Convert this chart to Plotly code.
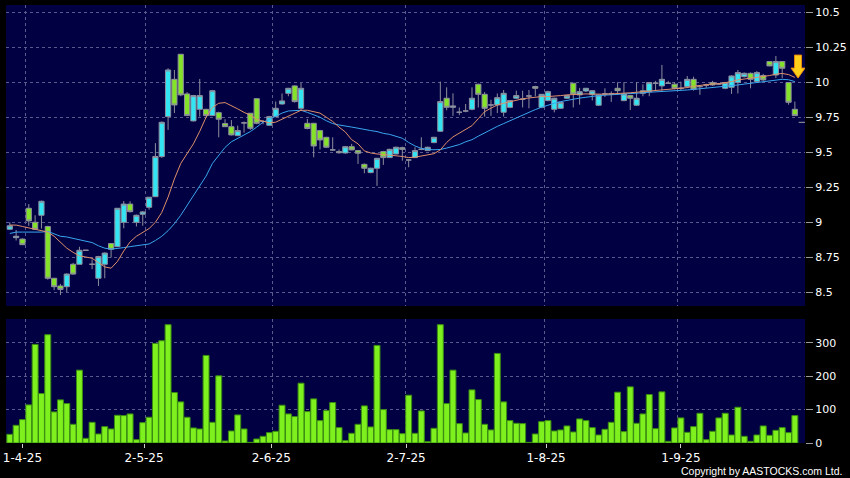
import plotly.graph_objects as go
from plotly.subplots import make_subplots

# daily bars (oldest first)
opens = [8.95, 8.89, 8.88, 9.10, 9.00, 9.05, 8.97, 8.60, 8.545, 8.54,
         8.70, 8.70, 8.80, 8.70, 8.60, 8.70, 8.848, 8.826, 9.00, 9.13,
         9.00, 9.057, 9.107, 9.183, 9.469, 9.755, 10.021, 10.20, 9.917, 9.724,
         9.807, 9.807, 9.762, 9.783, 9.705, 9.683, 9.619, 9.71, 9.779, 9.883,
         9.72, 9.693, 9.755, 9.845, 9.921, 9.974, 9.814, 9.707, 9.707, 9.655,
         9.607, 9.517, 9.505, 9.495, 9.54, 9.512, 9.414, 9.355, 9.386, 9.505,
         9.462, 9.488, 9.533, 9.445, 9.462, 9.521, 9.512, 9.569, 9.65, 9.886,
         9.821, 9.786, 9.795, 9.807, 9.986, 9.914, 9.838, 9.838, 9.786, 9.821,
         9.886, 9.879, 9.902, 9.969, 9.821, 9.869, 9.807, 9.814, 9.886, 9.993,
         9.91, 9.938, 9.912, 9.836, 9.917, 9.917, 9.957, 9.869, 9.905, 9.836,
         9.94, 9.933, 9.993, 9.974, 9.993, 9.986, 9.957, 9.969, 10.021, 9.969,
         9.98, 9.998, 9.988, 9.957, 9.964, 9.998, 10.04, 10.064, 10.005, 10.048,
         10.148, 10.052, 10.148, 9.998, 9.807]
highs = [9.00, 8.945, 8.885, 9.13, 9.05, 9.155, 8.975, 8.60, 8.56, 8.635,
         8.71, 8.825, 8.80, 8.735, 8.76, 8.785, 8.85, 9.10, 9.152, 9.15,
         9.055, 9.08, 9.18, 9.565, 9.72, 10.10, 10.088, 10.20, 9.93, 9.91,
         10.024, 9.81, 9.945, 9.79, 9.736, 9.73, 9.69, 9.72, 9.78, 9.885,
         9.73, 9.76, 9.862, 9.92, 9.96, 9.98, 9.995, 9.738, 9.71, 9.66,
         9.61, 9.607, 9.52, 9.545, 9.56, 9.515, 9.42, 9.39, 9.46, 9.51,
         9.525, 9.54, 9.54, 9.45, 9.536, 9.607, 9.54, 9.61, 10.005, 9.964,
         9.921, 9.82, 9.845, 9.964, 9.99, 9.93, 9.875, 9.92, 9.945, 9.87,
         9.94, 9.94, 9.945, 9.975, 9.915, 9.94, 9.89, 9.86, 9.91, 9.995,
         9.96, 9.96, 9.945, 9.912, 9.957, 9.935, 10.0, 10.0, 9.91, 10.0,
         9.985, 10.0, 10.01, 10.124, 10.01, 10.0, 10.005, 10.045, 10.04, 9.97,
         9.99, 10.01, 9.995, 10.0, 10.05, 10.088, 10.07, 10.07, 10.08, 10.06,
         10.15, 10.188, 10.15, 10.0, 9.862]
lows = [8.945, 8.87, 8.838, 8.975, 8.945, 8.955, 8.59, 8.515, 8.48, 8.50,
        8.625, 8.70, 8.80, 8.665, 8.545, 8.60, 8.748, 8.826, 8.957, 9.07,
        8.97, 8.975, 9.09, 9.18, 9.46, 9.66, 9.78, 9.90, 9.76, 9.72,
        9.755, 9.755, 9.76, 9.607, 9.68, 9.62, 9.615, 9.64, 9.66, 9.70,
        9.70, 9.69, 9.75, 9.84, 9.90, 9.855, 9.80, 9.664, 9.464, 9.52,
        9.53, 9.51, 9.49, 9.49, 9.515, 9.417, 9.35, 9.35, 9.26, 9.41,
        9.46, 9.485, 9.44, 9.393, 9.46, 9.515, 9.51, 9.565, 9.645, 9.80,
        9.76, 9.765, 9.786, 9.80, 9.82, 9.755, 9.76, 9.78, 9.755, 9.815,
        9.88, 9.82, 9.814, 9.90, 9.815, 9.865, 9.785, 9.81, 9.88, 9.82,
        9.84, 9.93, 9.87, 9.83, 9.895, 9.86, 9.91, 9.865, 9.802, 9.83,
        9.90, 9.90, 9.94, 9.94, 9.99, 9.95, 9.945, 9.96, 9.94, 9.91,
        9.96, 9.975, 9.98, 9.95, 9.917, 9.92, 10.035, 9.957, 10.0, 10.01,
        10.115, 10.03, 10.029, 9.84, 9.76]
closes = [8.975, 8.90, 8.84, 9.01, 8.95, 9.15, 8.60, 8.54, 8.52, 8.63,
          8.63, 8.80, 8.80, 8.70, 8.755, 8.78, 8.807, 9.10, 9.13, 9.076,
          9.05, 9.074, 9.179, 9.47, 9.714, 10.088, 9.838, 9.91, 9.762, 9.905,
          9.905, 9.762, 9.94, 9.736, 9.683, 9.624, 9.655, 9.71, 9.671, 9.707,
          9.72, 9.755, 9.814, 9.867, 9.957, 9.862, 9.957, 9.67, 9.545, 9.588,
          9.536, 9.517, 9.497, 9.54, 9.517, 9.493, 9.386, 9.386, 9.457, 9.462,
          9.521, 9.536, 9.521, 9.445, 9.512, 9.521, 9.536, 9.607, 9.862, 9.821,
          9.831, 9.786, 9.795, 9.886, 9.914, 9.814, 9.838, 9.89, 9.921, 9.869,
          9.905, 9.879, 9.902, 9.957, 9.914, 9.933, 9.886, 9.857, 9.905, 9.917,
          9.933, 9.957, 9.94, 9.91, 9.917, 9.917, 9.94, 9.917, 9.886, 9.886,
          9.921, 9.998, 9.993, 10.021, 9.993, 9.957, 9.957, 10.021, 9.95, 9.969,
          9.98, 9.981, 9.988, 9.998, 10.045, 10.069, 10.064, 10.021, 10.069, 10.017,
          10.117, 10.148, 10.10, 9.857, 9.762]

# moving averages as drawn on the chart
ma_short = [8.98, 8.98, 8.97, 8.96, 8.945, 8.94, 8.93, 8.90, 8.855, 8.815,
            8.785, 8.76, 8.752, 8.743, 8.712, 8.681, 8.672, 8.72, 8.795, 8.86,
            8.90, 8.925, 8.955, 9.00, 9.07, 9.18, 9.31, 9.42, 9.49, 9.56,
            9.65, 9.75, 9.82, 9.85, 9.855, 9.835, 9.81, 9.785, 9.765, 9.735,
            9.72, 9.71, 9.715, 9.735, 9.76, 9.78, 9.80, 9.80, 9.79, 9.78,
            9.75, 9.72, 9.68, 9.645, 9.59, 9.56, 9.51, 9.495, 9.488, 9.482,
            9.48, 9.475, 9.47, 9.462, 9.465, 9.475, 9.48, 9.49, 9.517, 9.57,
            9.61, 9.636, 9.66, 9.69, 9.74, 9.79, 9.815, 9.838, 9.85, 9.862,
            9.872, 9.882, 9.888, 9.895, 9.898, 9.898, 9.90, 9.905, 9.91, 9.914,
            9.915, 9.917, 9.916, 9.914, 9.915, 9.917, 9.918, 9.921, 9.925, 9.929,
            9.933, 9.938, 9.94, 9.945, 9.948, 9.952, 9.956, 9.962, 9.972, 9.978,
            9.985, 9.988, 9.99, 9.995, 10.005, 10.017, 10.023, 10.029, 10.034, 10.04,
            10.048, 10.058, 10.063, 10.055, 10.035]
ma_long = [8.92, 8.93, 8.93, 8.93, 8.925, 8.93, 8.935, 8.915, 8.90, 8.895,
           8.885, 8.878, 8.87, 8.855, 8.832, 8.815, 8.808, 8.812, 8.819, 8.826,
           8.833, 8.838, 8.845, 8.87, 8.90, 8.94, 8.99, 9.05, 9.12, 9.19,
           9.26, 9.33, 9.42, 9.48, 9.535, 9.575, 9.60, 9.625, 9.648, 9.68,
           9.715, 9.735, 9.76, 9.78, 9.795, 9.80, 9.80, 9.785, 9.77, 9.75,
           9.725, 9.705, 9.695, 9.69, 9.68, 9.672, 9.662, 9.655, 9.648, 9.635,
           9.628, 9.615, 9.60, 9.57, 9.545, 9.528, 9.52, 9.518, 9.52, 9.53,
           9.54, 9.555, 9.575, 9.59, 9.615, 9.64, 9.665, 9.685, 9.705, 9.725,
           9.75, 9.77, 9.79, 9.805, 9.822, 9.838, 9.85, 9.862, 9.872, 9.88,
           9.887, 9.893, 9.90, 9.905, 9.908, 9.91, 9.912, 9.914, 9.917, 9.921,
           9.925, 9.929, 9.931, 9.933, 9.936, 9.938, 9.941, 9.945, 9.949, 9.953,
           9.958, 9.962, 9.966, 9.97, 9.975, 9.981, 9.987, 9.993, 9.999, 10.005,
           10.011, 10.017, 10.021, 10.018, 10.005]

volumes = [26, 53, 70, 114, 295, 148, 324, 93, 129, 118,
           56, 218, 14, 62, 27, 49, 42, 83, 82, 87,
           10, 61, 77, 298, 306, 354, 151, 123, 77, 45,
           42, 262, 62, 201, 6, 36, 84, 42, 2, 12,
           20, 31, 35, 113, 87, 79, 179, 94, 132, 67,
           97, 121, 46, 7, 29, 56, 111, 48, 292, 100,
           40, 40, 28, 143, 29, 96, 4, 44, 354, 118,
           218, 58, 30, 159, 130, 56, 39, 268, 123, 67,
           59, 58, 2, 27, 64, 67, 36, 39, 51, 33,
           72, 67, 46, 24, 41, 62, 152, 34, 168, 59,
           87, 145, 43, 153, 5, 45, 75, 32, 49, 89,
           10, 35, 75, 89, 24, 107, 20, 5, 24, 51,
           23, 38, 46, 31, 82]

x_tick_pos = [2, 21.2, 41.3, 62.6, 84.7, 106]
x_tick_text = ["1-4-25", "2-5-25", "2-6-25", "2-7-25", "1-8-25", "1-9-25"]
month_starts = [2.5, 21.5, 41.5, 62.5, 84.5, 105.5]

price_ticks = [8.5, 8.75, 9, 9.25, 9.5, 9.75, 10, 10.25, 10.5]
price_tick_text = ["8.5", "8.75", "9", "9.25", "9.5", "9.75", "10", "10.25", "10.5"]
vol_ticks = [0, 100, 200, 300]

last_mark = 9.714

x = list(range(len(closes)))

GRID = "#5a5a8c"
WICK = "#8e8e9e"

fig = make_subplots(rows=2, cols=1, shared_xaxes=True, vertical_spacing=0.03)

fig.add_trace(go.Candlestick(
    x=x, open=opens, high=highs, low=lows, close=closes,
    increasing=dict(fillcolor="#33e5f2", line=dict(color=WICK, width=1)),
    decreasing=dict(fillcolor="#84e228", line=dict(color=WICK, width=1)),
    whiskerwidth=0,
), row=1, col=1)

fig.add_trace(go.Scatter(x=x, y=ma_long, mode="lines",
                         line=dict(color="#3aa6ee", width=1)), row=1, col=1)
fig.add_trace(go.Scatter(x=x, y=ma_short, mode="lines",
                         line=dict(color="#e0906a", width=1)), row=1, col=1)

fig.add_trace(go.Bar(
    x=x, y=volumes,
    marker=dict(color="#7ef01e", line=dict(color="#3a8c12", width=1)),
), row=2, col=1)

xgrid = dict(tickmode="array", tickvals=month_starts, showgrid=True,
             gridcolor=GRID, griddash="3px,3px", gridwidth=1, ticks="")

fig.update_layout(
    width=850, height=478,
    margin=dict(l=3, r=43, t=5, b=35),
    paper_bgcolor="black",
    plot_bgcolor="#000042",
    showlegend=False,
    boxgap=0.18,
    boxgroupgap=0,
    bargap=0.06,
    font=dict(family="DejaVu Sans", color="white", size=11),
    xaxis=dict(range=[-0.6, 125.6], rangeslider=dict(visible=False),
               showticklabels=False, showgrid=False, zeroline=False, ticks="",
               minor=xgrid),
    xaxis2=dict(range=[-0.6, 125.6], tickmode="array", tickvals=x_tick_pos,
                ticktext=x_tick_text, ticks="outside", ticklen=4, tickcolor="#cccccc",
                showgrid=False, zeroline=False, minor=xgrid,
                ticklabeloverflow="allow",
                tickfont=dict(size=12, color="white")),
    yaxis=dict(domain=[0.3128, 1.0], range=[8.402, 10.552], side="right",
               tickmode="array", tickvals=price_ticks, ticktext=price_tick_text,
               ticks="outside", ticklen=7, tickcolor="#9a9a9a",
               showgrid=True, gridcolor=GRID, griddash="3px,3px", gridwidth=1,
               zeroline=False, ticklabeloverflow="allow",
               tickfont=dict(size=11, color="white")),
    yaxis2=dict(domain=[0.0, 0.2831], range=[0, 371], side="right",
                tickmode="array", tickvals=vol_ticks,
                ticks="outside", ticklen=7, tickcolor="#9a9a9a",
                showgrid=True, gridcolor=GRID, griddash="3px,3px", gridwidth=1,
                zeroline=False, ticklabeloverflow="allow",
                tickfont=dict(size=11, color="white")),
)

# yellow down arrow over the latest bar
fig.add_shape(type="path", xref="x", yref="y",
              xsizemode="pixel", ysizemode="pixel",
              xanchor=x[-1] + 0.5, yanchor=10.03,
              path="M -3.5 23 L 3.5 23 L 3.5 10 L 7 10 L 0 0 L -7 10 L -3.5 10 Z",
              fillcolor="#ffcf1a", line=dict(color="#e88a0c", width=1))

# small last-price tick at the right edge
fig.add_shape(type="line", xref="x", yref="y",
              x0=x[-1] + 0.6, x1=x[-1] + 1.6, y0=last_mark, y1=last_mark,
              line=dict(color="#a0a0a0", width=1))

fig.add_annotation(text="Copyright by AASTOCKS.com Ltd.", xref="paper", yref="paper",
                   x=1.0485, y=-0.064, xanchor="right", yanchor="middle",
                   showarrow=False,
                   font=dict(family="Liberation Sans", size=10.5, color="white"))

# the page body has a default 8px margin; drop it so the figure sits at 0,0
fig.write_html("out.html", config={"displayModeBar": False},
               post_script="document.body.style.margin='0';")
